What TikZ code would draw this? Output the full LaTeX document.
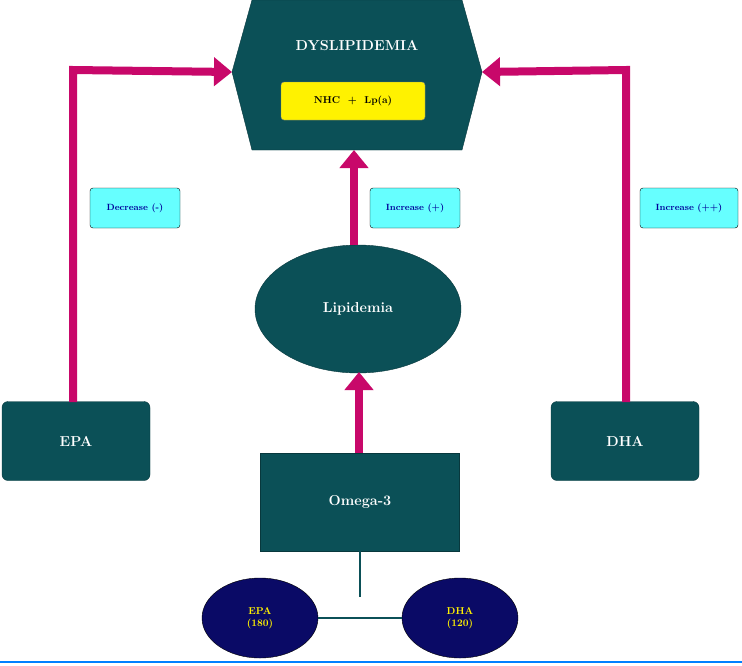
\documentclass[tikz,border=0pt]{standalone}
\usetikzlibrary{shapes.geometric,arrows.meta}
\begin{document}
\begin{tikzpicture}[x=1pt,y=-1pt,font=\bfseries,
  teal/.style={fill=tealc,draw=tealc!70!black},
  pipe/.style={line width=8pt,draw=magc,-{Triangle[length=18pt,width=28pt]}},
  lab/.style={draw=black,fill=cyanc,rounded corners=3pt,minimum height=40pt,text=blue!60!black,font=\bfseries\small},
  navy/.style={ellipse,fill=navyc,draw=black,minimum width=116pt,minimum height=80pt,text=yellow,align=center}]
\definecolor{tealc}{HTML}{0B5057}
\definecolor{magc}{HTML}{C8086A}
\definecolor{cyanc}{HTML}{66FFFF}
\definecolor{navyc}{HTML}{0A0A66}
\useasboundingbox (0,0) rectangle (742,665);
\fill[white] (0,0) rectangle (742,665);
\draw[teal] (252,0) -- (462,0) -- (482,72) -- (462,150) -- (252,150) -- (232,72) -- cycle;
\node[text=white,font=\bfseries\Large] (dys) at (357,46) {DYSLIPIDEMIA};
\node[fill=yellow,draw=gray,rounded corners=3pt,minimum width=144pt,minimum height=38pt] (nhc) at (353,101) {NHC \ + \ Lp(a)};
\coordinate (hl) at (232,72); \coordinate (hr) at (482,72); \coordinate (hb) at (354,150);
\node[teal,rounded corners=6pt,minimum width=148pt,minimum height=79pt,text=white,font=\bfseries\Large] (epa) at (76,441) {EPA};
\node[teal,rounded corners=6pt,minimum width=148pt,minimum height=79pt,text=white,font=\bfseries\Large] (dha) at (625,441) {DHA};
\node[teal,minimum width=199pt,minimum height=98pt,text=white,font=\bfseries\Large] (om) at (360,502) {Omega-3};
\node[teal,ellipse,minimum width=206pt,minimum height=128pt,text=white,font=\bfseries\Large] (lip) at (358,309) {Lipidemia};
\draw[pipe] (73,402) -- (73,70) -- (hl);
\draw[pipe] (626,402) -- (626,70) -- (hr);
\draw[pipe] (354,245) -- (hb);
\draw[pipe] (359,453) -- (359,372);
\node[lab,minimum width=90pt] (l1) at (135,208) {Decrease (-)};
\node[lab,minimum width=90pt] (l2) at (415,208) {Increase (+)};
\node[lab,minimum width=98pt] (l3) at (689,208) {Increase (++)};
\node[navy] (e2) at (260,618) {EPA\\(180)};
\node[navy] (d2) at (460,618) {DHA\\(120)};
\draw[tealc,line width=2pt] (om.south) -- (360,597) coordinate (j);
\draw[tealc,line width=2pt] (e2.east) -- (d2.west);
\draw[blue!50!cyan,line width=1.5pt] (0,662) -- (742,662);
\end{tikzpicture}
\end{document}
